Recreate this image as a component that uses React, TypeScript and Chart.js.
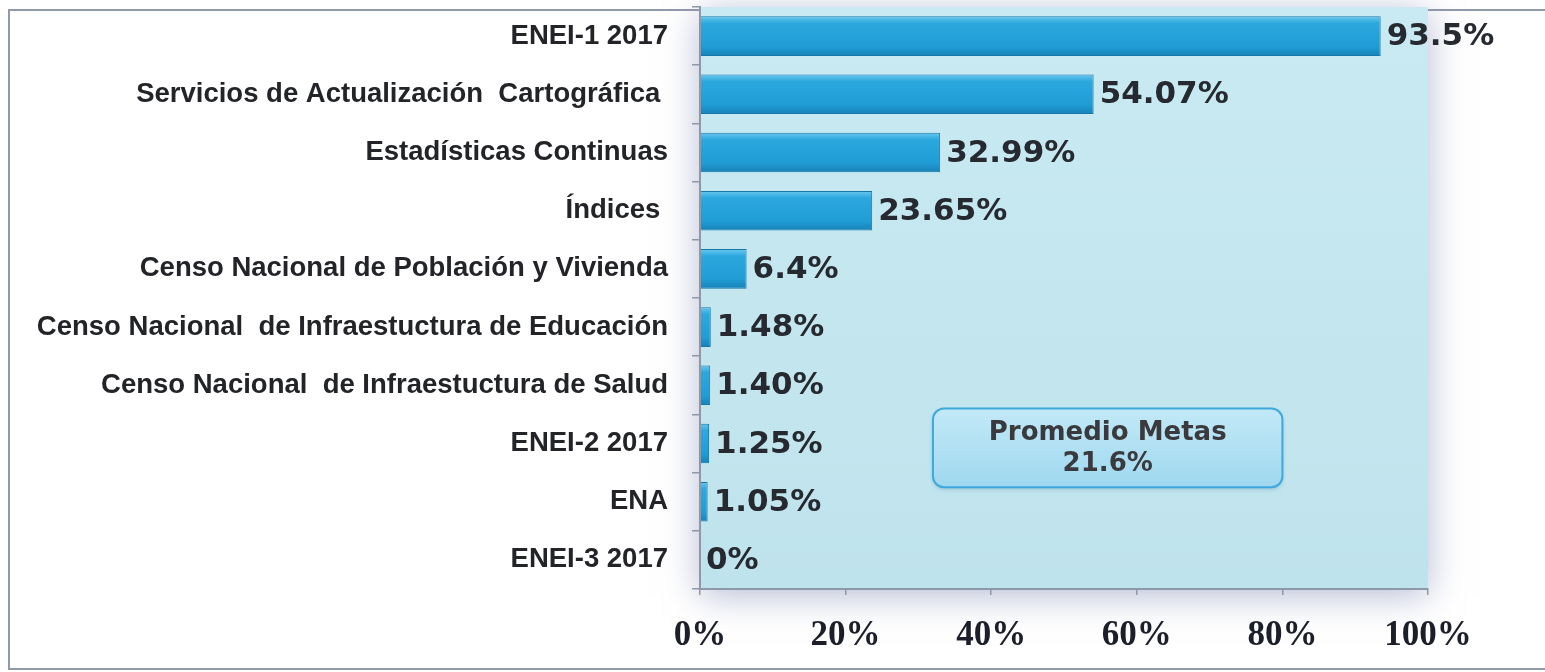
import React, { useEffect, useRef } from "react";
import { Chart, registerables } from "chart.js";

Chart.register(...registerables);

const categories = [
  "ENEI-1 2017",
  "Servicios de Actualización  Cartográfica ",
  "Estadísticas Continuas",
  "Índices ",
  "Censo Nacional de Población y Vivienda",
  "Censo Nacional  de Infraestuctura de Educación",
  "Censo Nacional  de Infraestuctura de Salud",
  "ENEI-2 2017",
  "ENA",
  "ENEI-3 2017",
];
const values = [93.5, 54.07, 32.99, 23.65, 6.4, 1.48, 1.4, 1.25, 1.05, 0];
const valueLabels = ["93.5%", "54.07%", "32.99%", "23.65%", "6.4%", "1.48%", "1.40%", "1.25%", "1.05%", "0%"];
const xTicks = [0, 20, 40, 60, 80, 100];
const boxLines = ["Promedio Metas", "21.6%"];
// annotation box extent in data space (x in %, y in category index)
const boxX = [32, 80];
const boxY = [6.4, 7.75];

const W = 1545;
const H = 672;

const framePlugin = {
  id: "framePlugin",
  beforeDraw(chart: any) {
    const { ctx, chartArea } = chart;
    ctx.save();
    ctx.fillStyle = "#ffffff";
    ctx.fillRect(0, 0, W, H);
    // outer frame
    ctx.strokeStyle = "rgba(125,135,155,0.85)";
    ctx.lineWidth = 2;
    ctx.beginPath();
    ctx.moveTo(W, 10);
    ctx.lineTo(9, 10);
    ctx.lineTo(9, 669);
    ctx.lineTo(W, 669);
    ctx.stroke();
    // plot background with soft halo
    const { left, top, right, bottom } = chartArea;
    ctx.shadowColor = "rgba(120,130,175,0.55)";
    ctx.shadowBlur = 34;
    ctx.shadowOffsetX = 0;
    ctx.shadowOffsetY = 6;
    ctx.fillStyle = "#c4e7ef";
    ctx.fillRect(left, top, right - left, bottom - top);
    ctx.shadowColor = "transparent";
    ctx.shadowBlur = 0;
    const g = ctx.createLinearGradient(0, top, 0, bottom);
    g.addColorStop(0, "#c9eaf2");
    g.addColorStop(1, "#bfe3ec");
    ctx.fillStyle = g;
    ctx.fillRect(left, top, right - left, bottom - top);
    ctx.restore();
  },
};

const labelPlugin = {
  id: "labelPlugin",
  afterDatasetsDraw(chart: any) {
    const { ctx } = chart;
    const meta = chart.getDatasetMeta(0);
    ctx.save();
    ctx.font = "bold 31px 'DejaVu Sans'";
    ctx.fillStyle = "#262a30";
    ctx.textAlign = "left";
    ctx.textBaseline = "middle";
    meta.data.forEach((el: any, i: number) => {
      ctx.fillText(valueLabels[i], el.x + 6, el.y + 1);
    });

    // annotation box
    const xs = chart.scales.x;
    const ys = chart.scales.y;
    const x0 = xs.getPixelForValue(boxX[0]);
    const x1 = xs.getPixelForValue(boxX[1]);
    const y0 = ys.getPixelForValue(boxY[0]);
    const y1 = ys.getPixelForValue(boxY[1]);
    const r = 11;
    ctx.beginPath();
    ctx.roundRect(x0, y0, x1 - x0, y1 - y0, r);
    const g = ctx.createLinearGradient(0, y0, 0, y1);
    g.addColorStop(0, "#c2e9f6");
    g.addColorStop(1, "#9fd8f0");
    ctx.shadowColor = "rgba(60,120,160,0.35)";
    ctx.shadowBlur = 4;
    ctx.shadowOffsetY = 2;
    ctx.fillStyle = g;
    ctx.fill();
    ctx.shadowColor = "transparent";
    ctx.lineWidth = 2;
    ctx.strokeStyle = "#3fa9dd";
    ctx.stroke();
    ctx.font = "bold 26px 'DejaVu Sans'";
    ctx.fillStyle = "#3a3a3e";
    ctx.textAlign = "center";
    const cx = (x0 + x1) / 2;
    const cy = (y0 + y1) / 2;
    ctx.fillText(boxLines[0], cx, cy - 15);
    ctx.fillText(boxLines[1], cx, cy + 16);
    ctx.restore();
  },
};

export default function App() {
  const ref = useRef<HTMLCanvasElement | null>(null);
  useEffect(() => {
    if (!ref.current) return;
    const chart = new Chart(ref.current, {
      type: "bar",
      data: {
        labels: categories,
        datasets: [
          {
            data: values,
            barPercentage: 0.68,
            categoryPercentage: 1,
            borderWidth: 1,
            borderColor: "#1677ab",
            borderSkipped: "left",
            backgroundColor: (c: any) => {
              const chartObj = c.chart;
              const ys = chartObj.scales && chartObj.scales.y;
              if (!ys || c.dataIndex === undefined) return "#25a2da";
              const cy = ys.getPixelForValue(c.dataIndex);
              if (!Number.isFinite(cy)) return "#25a2da";
              const g = chartObj.ctx.createLinearGradient(0, cy - 20, 0, cy + 20);
              g.addColorStop(0, "#6cc8ee");
              g.addColorStop(0.18, "#2ca8df");
              g.addColorStop(0.75, "#219dd6");
              g.addColorStop(1, "#1782b8");
              return g;
            },
          },
        ],
      },
      options: {
        indexAxis: "y",
        animation: false,
        responsive: false,
        devicePixelRatio: 1,
        layout: { padding: { top: 7, right: 117, bottom: 0, left: 0 } },
        plugins: { legend: { display: false }, tooltip: { enabled: false } },
        scales: {
          y: {
            afterFit: (s: any) => {
              s.width = 700;
              s.paddingTop = 0;
              s.paddingBottom = 0;
            },
            grid: {
              drawOnChartArea: false,
              drawTicks: true,
              tickLength: 8,
              color: "#8d99a8",
              lineWidth: 1.5,
            },
            border: { display: true, color: "#8d99a8", width: 2 },
            ticks: {
              padding: 24,
              color: "#222428",
              font: { family: "'Liberation Sans', Arial, sans-serif", weight: "bold", size: 27.5 },
            },
          },
          x: {
            min: 0,
            max: 100,
            afterFit: (s: any) => {
              s.height = 83;
            },
            afterBuildTicks: (s: any) => {
              s.ticks = xTicks.map((v) => ({ value: v }));
            },
            grid: {
              drawOnChartArea: false,
              drawTicks: true,
              tickLength: 6,
              color: "#8d99a8",
              lineWidth: 1.5,
            },
            border: { display: true, color: "#8d99a8", width: 2 },
            ticks: {
              padding: 20,
              color: "#1c1f2a",
              maxRotation: 0,
              callback: (v: any) => v + "%",
              font: { family: "'Liberation Serif', 'Times New Roman', serif", weight: "bold", size: 35 },
            },
          },
        },
      },
      plugins: [framePlugin, labelPlugin],
    } as any);
    return () => chart.destroy();
  }, []);
  return (
    <div style={{ position: "absolute", left: 0, top: 0, width: W, height: H }}>
      <canvas ref={ref} width={W} height={H} style={{ display: "block" }} />
    </div>
  );
}
